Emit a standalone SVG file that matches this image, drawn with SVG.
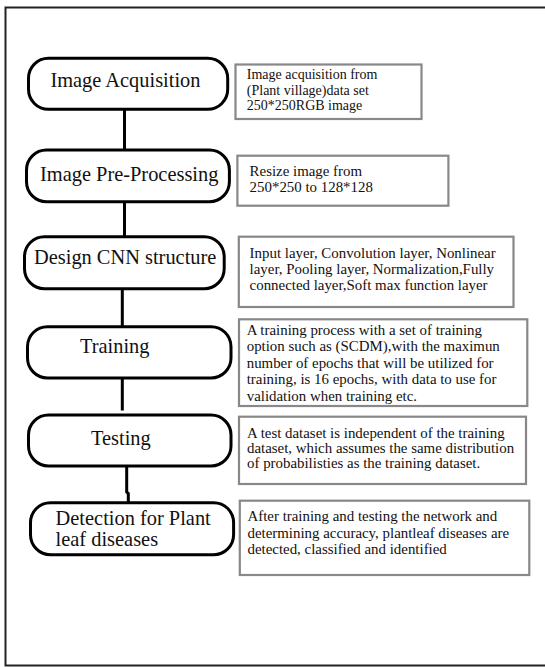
<svg xmlns="http://www.w3.org/2000/svg" width="545" height="667" viewBox="0 0 545 667">
<style>
.node{fill:#fff;stroke:#000;stroke-width:3}
.nt{font-family:"Liberation Serif","Times New Roman",serif;font-size:20.4px;fill:#111}
.box{fill:#fff;stroke:#888;stroke-width:2.2}
.bt{font-family:"Liberation Serif","Times New Roman",serif;font-size:14.9px;fill:#111}
.bt1{font-size:14px}
.con{stroke:#000;stroke-width:3;fill:none}
</style>
<rect x="0" y="0" width="545" height="667" fill="#fff"/>
<rect id="frame" x="5.5" y="7.5" width="560" height="658" fill="none" stroke="#222" stroke-width="2"/>
<g id="connectors">
<line class="con" x1="124.5" y1="109" x2="124.5" y2="150"/>
<line class="con" x1="124.5" y1="201.7" x2="124.5" y2="237"/>
<line class="con" x1="122.3" y1="288.5" x2="122.3" y2="327"/>
<line class="con" x1="122.3" y1="378" x2="122.3" y2="410.5"/>
<polyline class="con" points="126.7,466 126.7,492 128.3,493.5 128.3,503"/>
</g>
<g id="n1">
<rect class="node" x="28.5" y="58.3" width="199.2" height="51" rx="20"/>
<text class="nt" x="50.4" y="86.7">Image Acquisition</text>
</g>
<g id="d1">
<rect class="box" x="235.5" y="64.5" width="186" height="54.5"/>
<text class="bt bt1" x="246.8" y="79">Image acquisition from</text>
<text class="bt bt1" x="246.8" y="94.5">(Plant village)data set</text>
<text class="bt bt1" x="246.8" y="110">250*250RGB image</text>
</g>
<g id="n2">
<rect class="node" x="26.5" y="150" width="202.9" height="51.7" rx="20"/>
<text class="nt" x="40" y="180.7">Image Pre-Processing</text>
</g>
<g id="d2">
<rect class="box" x="237.4" y="155.7" width="211" height="50"/>
<text class="bt" x="249.6" y="176.3">Resize image from</text>
<text class="bt" x="249.6" y="191.8">250*250  to 128*128</text>
</g>
<g id="n3">
<rect class="node" x="24.5" y="236.7" width="199.7" height="52" rx="20"/>
<text class="nt" x="34" y="264.3">Design CNN structure</text>
</g>
<g id="d3">
<rect class="box" x="238.8" y="236.7" width="274.7" height="70.3"/>
<text class="bt" x="249.6" y="257.7">Input layer, Convolution layer, Nonlinear</text>
<text class="bt" x="249.6" y="274">layer, Pooling layer, Normalization,Fully</text>
<text class="bt" x="249.6" y="290">connected layer,Soft max function layer</text>
</g>
<g id="n4">
<rect class="node" x="27.5" y="326.7" width="203.5" height="51.3" rx="20"/>
<text class="nt" x="80" y="353">Training</text>
</g>
<g id="d4">
<rect class="box" x="239" y="319.3" width="288.3" height="86.7"/>
<text class="bt" x="246.7" y="334.5">A training process with a set of training</text>
<text class="bt" x="246.7" y="351">option such as (SCDM),with the maximun</text>
<text class="bt" x="246.7" y="367.5">number of epochs that will be utilized for</text>
<text class="bt" x="246.7" y="384">training, is 16 epochs, with data to use for</text>
<text class="bt" x="246.7" y="400.5">validation when training etc.</text>
</g>
<g id="n5">
<rect class="node" x="28.5" y="415" width="202.5" height="51" rx="20"/>
<text class="nt" x="91" y="444.5">Testing</text>
</g>
<g id="d5">
<rect class="box" x="239" y="416.7" width="287" height="67.3"/>
<text class="bt" x="247" y="437.5">A test dataset is independent of the training</text>
<text class="bt" x="247" y="453">dataset, which assumes the same distribution</text>
<text class="bt" x="247" y="468">of probabilisties as the training dataset.</text>
</g>
<g id="n6">
<rect class="node" x="30.5" y="502.7" width="203.1" height="52" rx="20"/>
<text class="nt" x="55.6" y="525">Detection for Plant</text>
<text class="nt" x="55.6" y="546">leaf diseases</text>
</g>
<g id="d6">
<rect class="box" x="239.8" y="500.7" width="289.5" height="74.3"/>
<text class="bt" x="247.5" y="521">After training and testing the network and</text>
<text class="bt" x="247.5" y="537.5">determining accuracy, plantleaf diseases are</text>
<text class="bt" x="247.5" y="553.5">detected, classified and identified</text>
</g>
</svg>
